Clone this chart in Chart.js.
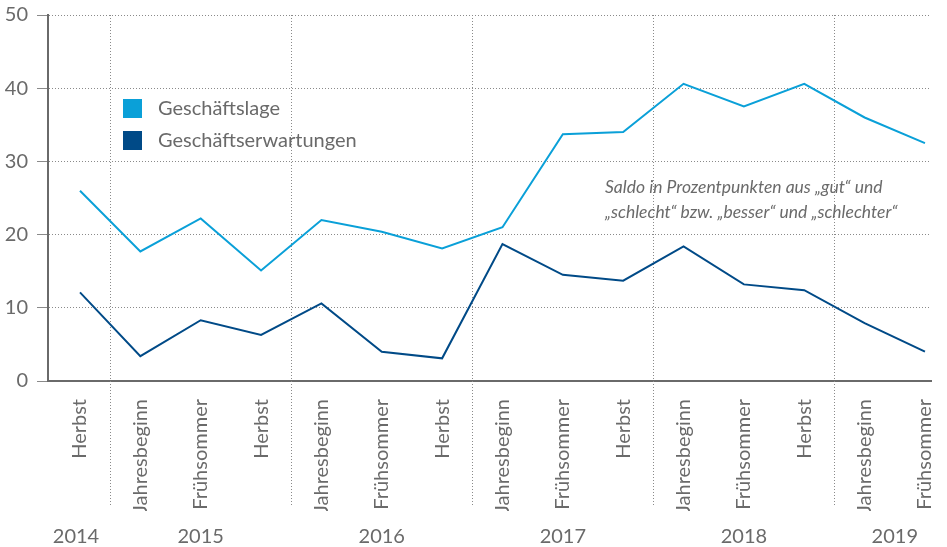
<!DOCTYPE html>
<html>
<head>
<meta charset="utf-8">
<script src="https://cdn.jsdelivr.net/npm/chart.js@4/dist/chart.umd.min.js"></script>
<style>
  html, body { margin: 0; padding: 0; background: #fff; }
  #wrap { width: 947px; height: 547px; }
</style>
</head>
<body>
<div id="wrap"><canvas id="chart" width="947" height="547"></canvas></div>
<script>
// Daten
const categories = ['Herbst', 'Jahresbeginn', 'Frühsommer', 'Herbst', 'Jahresbeginn', 'Frühsommer', 'Herbst',
    'Jahresbeginn', 'Frühsommer', 'Herbst', 'Jahresbeginn', 'Frühsommer', 'Herbst', 'Jahresbeginn', 'Frühsommer'];
const lage = [26.0, 17.7, 22.2, 15.1, 22.0, 20.4, 18.1, 21.0, 33.7, 34.0, 40.6, 37.5, 40.6, 36.0, 32.5];
const erwartungen = [12.1, 3.4, 8.3, 6.3, 10.6, 4.0, 3.1, 18.7, 14.5, 13.7, 18.4, 13.2, 12.4, 7.9, 4.0];
const yTicks = [0, 10, 20, 30, 40, 50];
// Jahr + Position (Index) auf der x-Achse
const years = ['2014', '2015', '2016', '2017', '2018', '2019'];
const yearPos = [0, 2, 5, 8, 11, 13.5];
const separators = [0.5, 3.5, 6.5, 9.5, 12.5];
const seriesNames = ['Geschäftslage', 'Geschäftserwartungen'];
const note = ['Saldo in Prozentpunkten aus „gut“ und', '„schlecht“ bzw. „besser“ und „schlechter“'];

const FONT = 'Lato, "Open Sans", sans-serif';
const GREY = '#6a6a6a';
const LIGHT = '#0aa0d8';
const DARK = '#004a87';

const overlay = {
    id: 'overlay',
    beforeDatasetsDraw(chart) {
        const ctx = chart.ctx, x = chart.scales.x, area = chart.chartArea;
        ctx.save();
        ctx.strokeStyle = '#8a8a8a';
        ctx.lineWidth = 1;
        ctx.setLineDash([1, 2]);
        separators.forEach(s => {
            const px = Math.round(x.getPixelForValue(s)) + 0.5;
            ctx.beginPath();
            ctx.moveTo(px, area.top);
            ctx.lineTo(px, 505);
            ctx.stroke();
        });
        ctx.restore();
    },
    afterDraw(chart) {
        const ctx = chart.ctx, x = chart.scales.x;
        ctx.save();
        // Jahre
        ctx.fillStyle = GREY;
        ctx.font = '400 20px ' + FONT;
        ctx.textAlign = 'center';
        ctx.textBaseline = 'middle';
        years.forEach((y, i) => {
            ctx.fillText(y, x.getPixelForValue(yearPos[i]) - (i === 0 ? 4 : 0), 537);
        });
        // Legende
        const colors = [LIGHT, DARK];
        ctx.textAlign = 'left';
        seriesNames.forEach((n, i) => {
            const top = 99 + i * 32;
            ctx.fillStyle = colors[i];
            ctx.fillRect(123, top, 19, 19);
            ctx.fillStyle = GREY;
            ctx.fillText(n, 158, top + 10);
        });
        // Hinweis
        ctx.font = 'italic 400 17.5px ' + FONT;
        note.forEach((t, i) => ctx.fillText(t, 605, 187 + i * 25));
        ctx.restore();
    }
};

new Chart(document.getElementById('chart').getContext('2d'), {
    type: 'line',
    data: {
        datasets: [
            { label: seriesNames[0], data: lage.map((v, i) => ({ x: i, y: v })), borderColor: LIGHT, borderWidth: 2 },
            { label: seriesNames[1], data: erwartungen.map((v, i) => ({ x: i, y: v })), borderColor: DARK, borderWidth: 2 }
        ]
    },
    options: {
        responsive: false,
        animation: false,
        elements: { point: { radius: 0 }, line: { tension: 0 } },
        layout: { padding: { top: 15, right: 16, bottom: 36, left: 0 } },
        plugins: { legend: { display: false }, tooltip: { enabled: false } },
        scales: {
            x: {
                type: 'linear',
                min: -0.53,
                max: 14.1,
                afterBuildTicks: s => { s.ticks = categories.map((c, i) => ({ value: i })); },
                afterFit: s => { s.height = 130; s.paddingLeft = 0; s.paddingRight = 0; },
                grid: { display: false },
                border: { display: true, color: GREY, width: 2 },
                ticks: {
                    autoSkip: false,
                    minRotation: 90,
                    maxRotation: 90,
                    padding: 10,
                    color: GREY,
                    font: { family: FONT, size: 20, weight: 400 },
                    callback: v => categories[v]
                }
            },
            y: {
                min: 0,
                max: 50,
                afterBuildTicks: s => { s.ticks = yTicks.map(v => ({ value: v })); },
                afterFit: s => { s.width = 48; s.paddingTop = 0; s.paddingBottom = 0; },
                grid: { color: '#8a8a8a', lineWidth: 1, tickLength: 11, drawTicks: true },
                border: { display: true, color: GREY, width: 2, dash: [1, 2] },
                ticks: {
                    padding: 9,
                    color: GREY,
                    font: { family: FONT, size: 20, weight: 400 }
                }
            }
        }
    },
    plugins: [overlay]
});
</script>
</body>
</html>
